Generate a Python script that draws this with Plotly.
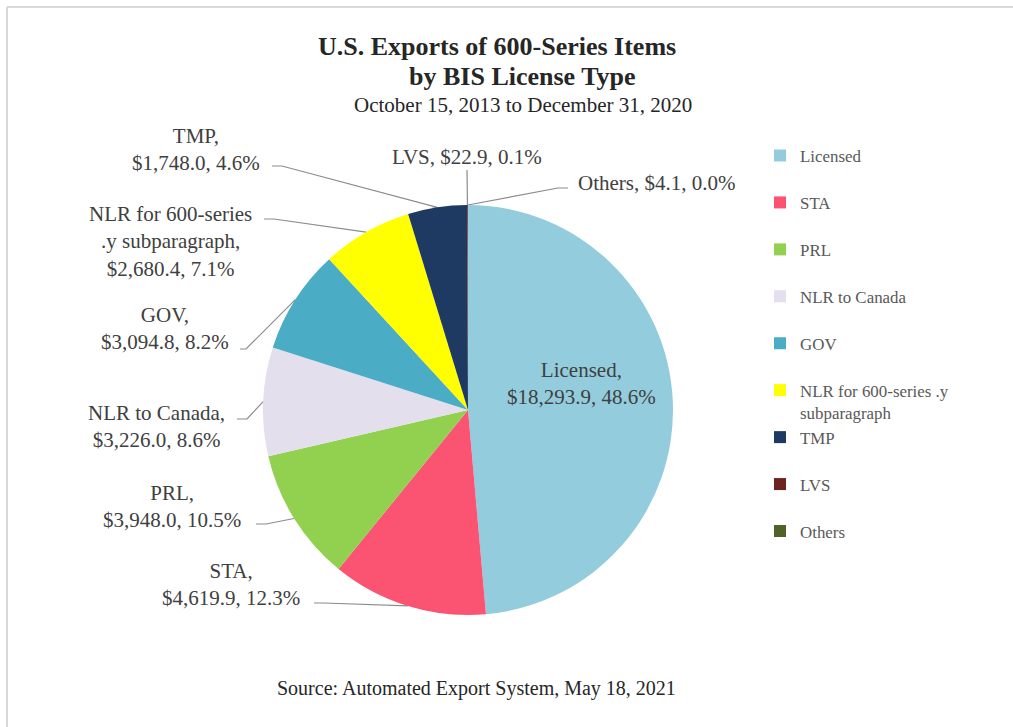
import math
import plotly.graph_objects as go

# ---------------- data ----------------
categories = ["Licensed", "STA", "PRL", "NLR to Canada", "GOV",
              "NLR for 600-series .y subparagraph", "TMP", "LVS", "Others"]
values = [18293.9, 4619.9, 3948.0, 3226.0, 3094.8, 2680.4, 1748.0, 22.9, 4.1]

title_line1 = "U.S. Exports of 600-Series Items"
title_line2 = "by BIS License Type"
subtitle = "October 15, 2013 to December 31, 2020"
source = "Source: Automated Export System, May 18, 2021"

# text wrapping used for the data labels / legend entries
label_names = ["Licensed", "STA", "PRL", "NLR to Canada", "GOV",
               "NLR for 600-series<br>.y subparagraph", "TMP", "LVS", "Others"]
label_seps = ["<br>", "<br>", "<br>", "<br>", "<br>", "<br>", "<br>", " ", " "]
legend_names = ["Licensed<br> ", "STA<br> ", "PRL<br> ", "NLR to Canada<br> ", "GOV<br> ",
                "NLR for 600-series .y<br>subparagraph", "TMP<br> ", "LVS<br> ", "Others<br> "]

colors = ["#93CDDD", "#FB5372", "#92D050", "#E4DFEC", "#4BACC6",
          "#FFFF00", "#1F3A62", "#6E2222", "#4F6228"]

# ---------------- layout constants (pixels) ----------------
W, H = 1013, 727
CX, CY, R = 468, 410, 205
# label block centres and leader-line start points (None = inside label)
label_centres = [(581, 383), (231, 584), (172, 506), (156, 426), (165, 328),
                 (170, 241), (196, 150), (467, 157), (656, 183)]
leader_starts = [None, (314, 603), (256, 524), (237, 419), (240, 349),
                 (264, 219), (272, 166), (467, 170), (568, 188)]
elbow = [0, 10, 10, 10, 6, 10, 10, 0, -10]

SERIF = "Liberation Serif"


def px(x):
    return x / W


def py(y):
    return 1 - y / H


total = sum(values)

fig = go.Figure()
fig.add_trace(go.Pie(
    labels=legend_names,
    values=values,
    sort=False,
    direction="clockwise",
    rotation=0,
    marker=dict(colors=colors, line=dict(width=0)),
    textinfo="none",
    hoverinfo="skip",
    domain=dict(x=[px(CX - R), px(CX + R)], y=[py(CY + R), py(CY - R)]),
))

annotations = []
shapes = []

cum = 0.0
for i, v in enumerate(values):
    frac = v / total
    mid = cum + frac / 2
    cum += frac
    theta = 2 * math.pi * mid
    ex = CX + R * math.sin(theta)
    ey = CY - R * math.cos(theta)

    text = f"{label_names[i]},{label_seps[i]}${v:,.1f}, {frac * 100:.1f}%"
    lx, ly = label_centres[i]
    annotations.append(dict(
        x=px(lx), y=py(ly), xref="paper", yref="paper",
        text=text, showarrow=False, xanchor="center", yanchor="middle",
        align="center", font=dict(family=SERIF, size=21, color="#404040"),
    ))
    if leader_starts[i] is not None:
        sx, sy = leader_starts[i]
        mx = sx + elbow[i]
        path = (f"M {px(sx)},{py(sy)} L {px(mx)},{py(sy)} "
                f"L {px(ex)},{py(ey)}")
        shapes.append(dict(type="path", xref="paper", yref="paper", path=path,
                           line=dict(color="#8C8C8C", width=1.2), layer="below"))

# titles
annotations += [
    dict(x=px(497), y=py(46), xref="paper", yref="paper", text=f"<b>{title_line1}</b>",
         showarrow=False, xanchor="center", yanchor="middle",
         font=dict(family=SERIF, size=26, color="#262626")),
    dict(x=px(522), y=py(76), xref="paper", yref="paper", text=f"<b>{title_line2}</b>",
         showarrow=False, xanchor="center", yanchor="middle",
         font=dict(family=SERIF, size=26, color="#262626")),
    dict(x=px(523), y=py(105), xref="paper", yref="paper", text=subtitle,
         showarrow=False, xanchor="center", yanchor="middle",
         font=dict(family=SERIF, size=21, color="#262626")),
    dict(x=px(476), y=py(688), xref="paper", yref="paper", text=source,
         showarrow=False, xanchor="center", yanchor="middle",
         font=dict(family=SERIF, size=20, color="#262626")),
]

# frame lines (top and left edges visible)
shapes += [
    dict(type="line", xref="paper", yref="paper", x0=px(7), y0=py(7), x1=1, y1=py(7),
         line=dict(color="#D9D9D9", width=2)),
    dict(type="line", xref="paper", yref="paper", x0=px(7), y0=py(7), x1=px(7), y1=0,
         line=dict(color="#D9D9D9", width=2)),
]

fig.update_layout(
    width=W, height=H,
    margin=dict(l=0, r=0, t=0, b=0),
    paper_bgcolor="white", plot_bgcolor="white",
    showlegend=True,
    legend=dict(x=px(760), y=py(138), xanchor="left", yanchor="top",
                font=dict(family=SERIF, size=16.9, color="#595959"),
                valign="top", bgcolor="rgba(0,0,0,0)", itemclick=False),
    annotations=annotations,
    shapes=shapes,
)

fig.write_html("out.html", config={"displayModeBar": False},
               post_script="document.body.style.margin='0';document.body.style.overflow='hidden';")
